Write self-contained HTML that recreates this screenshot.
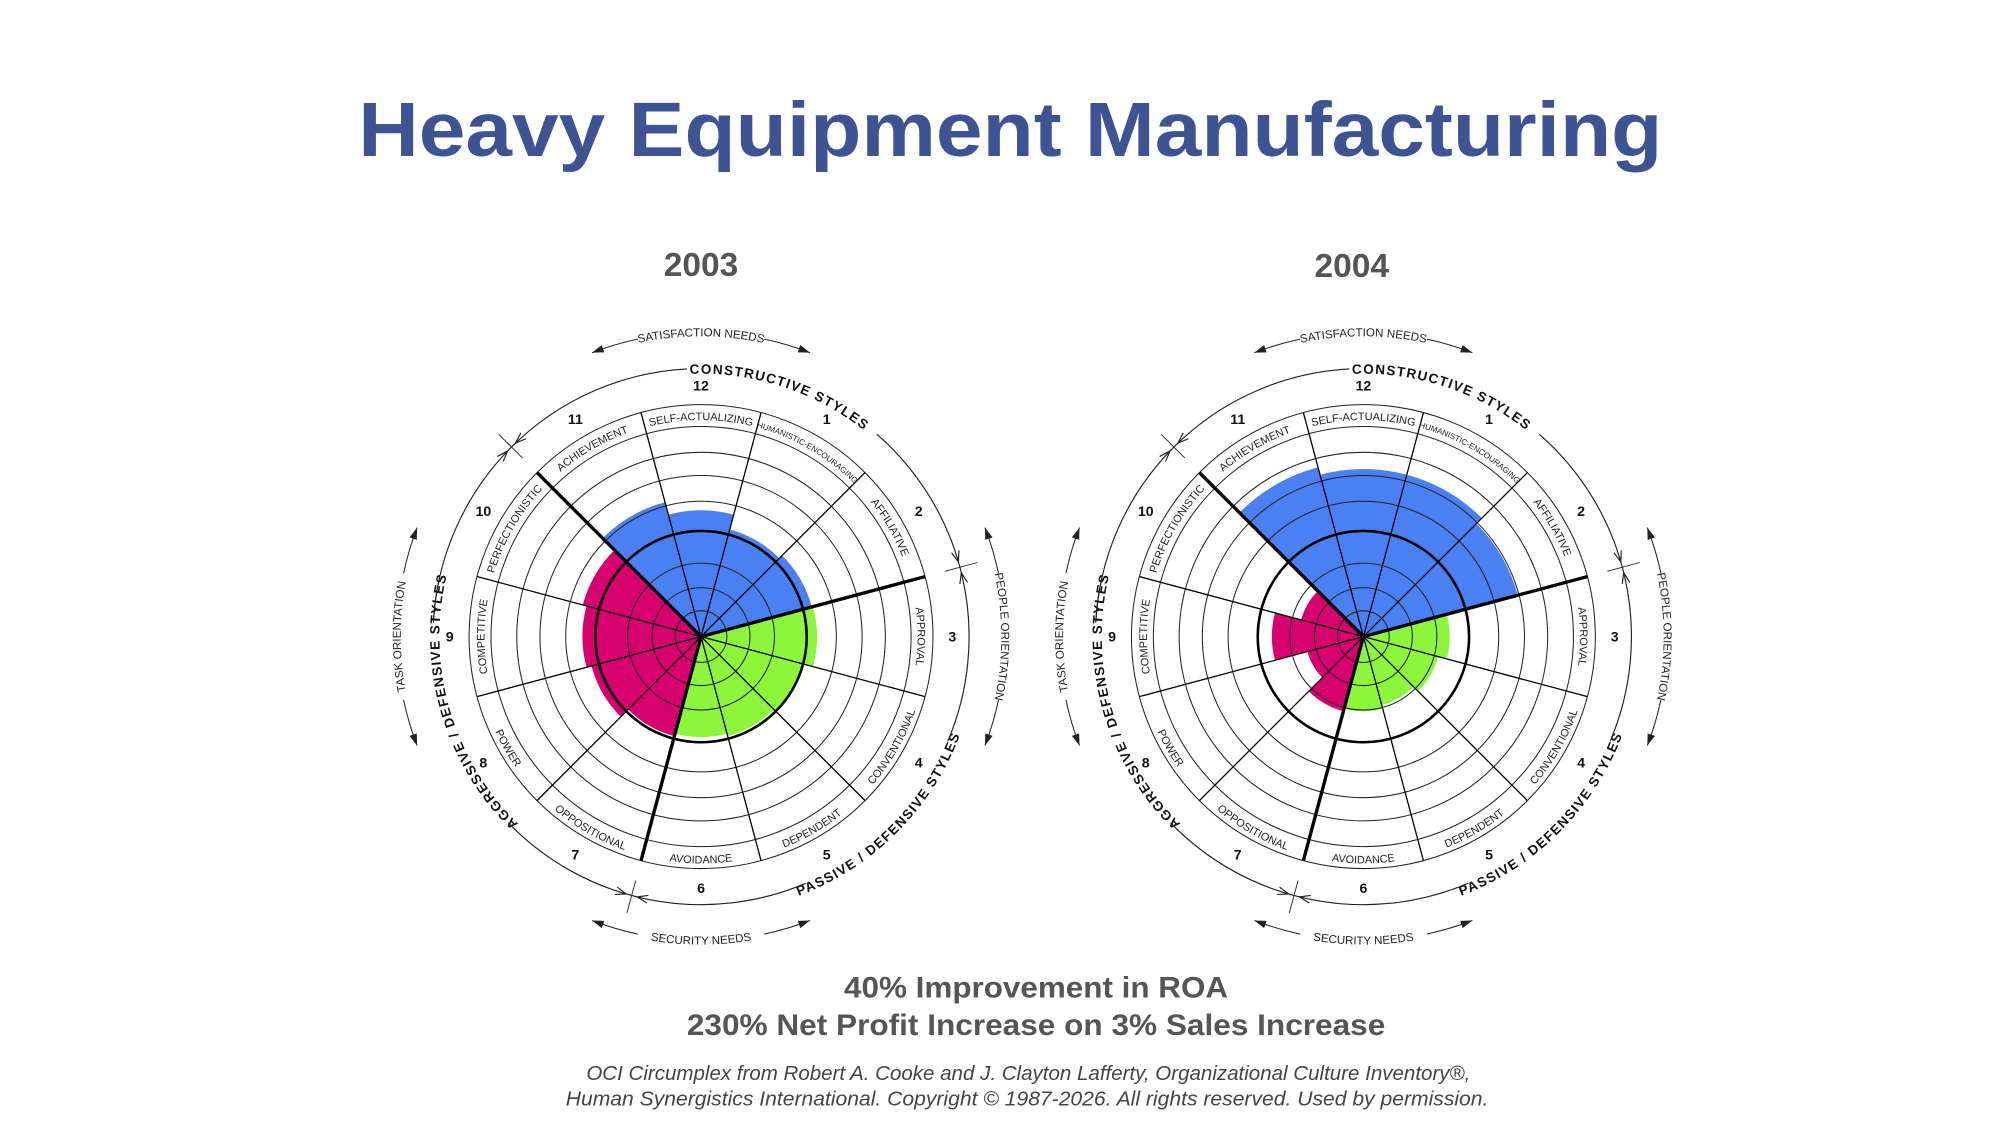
<!DOCTYPE html>
<html><head><meta charset="utf-8"><style>
html,body{margin:0;padding:0;background:#fff;}
svg{display:block;}
text{font-family:"Liberation Sans",Arial,sans-serif;}
</style></head><body>
<svg id="s" xmlns="http://www.w3.org/2000/svg" width="2000" height="1125" viewBox="0 0 1552 873">
<rect width="1552" height="873" fill="#fff"/>
<text x="784" y="121" text-anchor="middle" font-size="60" font-weight="bold" fill="#3d5393" textLength="1012" lengthAdjust="spacingAndGlyphs">Heavy Equipment Manufacturing</text>
<text x="544" y="214" text-anchor="middle" font-size="26" font-weight="bold" fill="#555">2003</text>
<text x="1049" y="215" text-anchor="middle" font-size="26" font-weight="bold" fill="#555">2004</text>
<text x="804" y="774" text-anchor="middle" font-size="23" font-weight="bold" fill="#555" textLength="298" lengthAdjust="spacingAndGlyphs">40% Improvement in ROA</text>
<text x="804" y="803" text-anchor="middle" font-size="23" font-weight="bold" fill="#555" textLength="542" lengthAdjust="spacingAndGlyphs">230% Net Profit Increase on 3% Sales Increase</text>
<text x="798" y="838" text-anchor="middle" font-size="16" font-style="italic" fill="#444" textLength="686" lengthAdjust="spacingAndGlyphs">OCI Circumplex from Robert A. Cooke and J. Clayton Lafferty, Organizational Culture Inventory®,</text>
<text x="797" y="858" text-anchor="middle" font-size="16" font-style="italic" fill="#444" textLength="716" lengthAdjust="spacingAndGlyphs">Human Synergistics International. Copyright © 1987-2026. All rights reserved.  Used by permission.</text>
<g id="c1"></g><g id="c2"></g>
</svg>
<script>
var NS="http://www.w3.org/2000/svg",uid=0;
function P(cx,cy,r,a){a=a*Math.PI/180;return [cx+r*Math.sin(a),cy-r*Math.cos(a)];}
function f(p){return p[0].toFixed(2)+","+p[1].toFixed(2);}
function arc(cx,cy,r,a1,a2){
 var cw=a2>a1?1:0,large=Math.abs(a2-a1)>180?1:0;
 return "M"+f(P(cx,cy,r,a1))+" A"+r+","+r+" 0 "+large+","+cw+" "+f(P(cx,cy,r,a2));}
function chart(g,cx,cy,vals){
 var h="",B="#4a80f2",M="#d6006e",G="#8cf53c";
 var cols=[null,B,B,G,G,G,G,M,M,M,M,B,B];
 for(var k=1;k<=12;k++){var a=30*(k%12),r=vals[k%12];
  h+='<path d="M'+cx+','+cy+' L'+f(P(cx,cy,r,a-15))+' A'+r+','+r+' 0 0,1 '+f(P(cx,cy,r,a+15))+' Z" fill="'+cols[k]+'"/>';}
 [20,38,57,105,125,143,163,180].forEach(function(r){h+='<circle cx="'+cx+'" cy="'+cy+'" r="'+r+'" fill="none" stroke="#222" stroke-width="0.8"/>';});
 h+='<circle cx="'+cx+'" cy="'+cy+'" r="82" fill="none" stroke="#000" stroke-width="2"/>';
 for(var i=0;i<12;i++){var a=15+30*i,bold=(a==75||a==195||a==315);
  var e=P(cx,cy,180,a);h+='<line x1="'+cx+'" y1="'+cy+'" x2="'+e[0].toFixed(2)+'" y2="'+e[1].toFixed(2)+'" stroke="#000" stroke-width="'+(bold?2.6:1)+'"/>';}
 var names=["SELF-ACTUALIZING","HUMANISTIC-ENCOURAGING","AFFILIATIVE","APPROVAL","CONVENTIONAL","DEPENDENT","AVOIDANCE","OPPOSITIONAL","POWER","COMPETITIVE","PERFECTIONISTIC","ACHIEVEMENT"];
 function tp(r,a1,a2,txt,fs,extra){var id="p"+(uid++);
  h+='<path id="'+id+'" d="'+arc(cx,cy,r,a1,a2)+'" fill="none"/>';
  h+='<text font-size="'+fs+'" '+(extra||'')+'><textPath href="#'+id+'" startOffset="50%" text-anchor="middle">'+txt+'</textPath></text>';}
 for(var k=0;k<12;k++){var a=30*k,ccw=(k>=4&&k<=8);var t=names[k];
  var fs=(k==1)?6.3:8.5;
  if(ccw)tp(176,a+20,a-20,t,fs,'fill="#222"');else tp(168,a-20,a+20,t,fs,'fill="#222"');}
 var nums=[12,1,2,3,4,5,6,7,8,9,10,11];
 for(var k=0;k<12;k++){var p=P(cx,cy,195,30*k);h+='<text x="'+p[0].toFixed(1)+'" y="'+(p[1]+4).toFixed(1)+'" text-anchor="middle" font-size="11" font-weight="bold" fill="#111">'+nums[k]+'</text>';}
 tp(204,-12,48,"CONSTRUCTIVE STYLES",10.5,'font-weight="bold" letter-spacing="1" fill="#111"');
 tp(203,216,292,"AGGRESSIVE / DEFENSIVE STYLES",10.5,'font-weight="bold" letter-spacing="1" fill="#111"');
 tp(215,174,96,"PASSIVE / DEFENSIVE STYLES",10.5,'font-weight="bold" letter-spacing="1" fill="#111"');
 var st='fill="none" stroke="#222" stroke-width="0.9"';
 h+='<path d="'+arc(cx,cy,208,-87,-3)+'" '+st+'/>';
 h+='<path d="'+arc(cx,cy,208,41,113)+'" '+st+'/>';
 h+='<path d="'+arc(cx,cy,208,157,226)+'" '+st+'/>';
 h+='<path d="'+arc(cx,cy,208,283,273)+'" '+st+'/>';
 [75,195,315].forEach(function(a){var p1=P(cx,cy,196,a),p2=P(cx,cy,222,a);
  h+='<line x1="'+p1[0].toFixed(1)+'" y1="'+p1[1].toFixed(1)+'" x2="'+p2[0].toFixed(1)+'" y2="'+p2[1].toFixed(1)+'" stroke="#222" stroke-width="0.7"/>';
  [-1,1].forEach(function(d){var t=P(cx,cy,208,a+d*1.2),b1=P(cx,cy,205,a+d*3.5),b2=P(cx,cy,211,a+d*3.5);
   h+='<path d="M'+f(b1)+' L'+f(t)+' L'+f(b2)+'" fill="none" stroke="#222" stroke-width="0.9"/>';});});
 [[-21,21,0],[69,111,90],[159,201,180],[249,291,270]].forEach(function(o){
  var c=o[2];h+='<path d="'+arc(cx,cy,236,o[0],c-12)+'" fill="none" stroke="#222" stroke-width="0.8"/>';
  h+='<path d="'+arc(cx,cy,236,c+12,o[1])+'" fill="none" stroke="#222" stroke-width="0.8"/>';
  [[o[0],1],[o[1],-1]].forEach(function(q){var t=P(cx,cy,236,q[0]),b1=P(cx,cy,233,q[0]+q[1]*2.2),b2=P(cx,cy,239,q[0]+q[1]*2.2);
   h+='<path d="M'+f(b1)+' L'+f(t)+' L'+f(b2)+' Z" fill="#222"/>';});});
 tp(233,-25,25,"SATISFACTION NEEDS",9,'fill="#222"');
 tp(233,65,115,"PEOPLE ORIENTATION",9,'fill="#222"');
 tp(239,205,155,"SECURITY NEEDS",9,'fill="#222"');
 tp(233,245,295,"TASK ORIENTATION",9,'fill="#222"');
 document.getElementById(g).innerHTML=h;}
chart("c1",544,494,[98,86,89,90,82,80,78,80,88,92,95,108]);
chart("c2",1058,494,[130,130,124,67,60,55,58,60,45,71,50,136]);
</script>
</body></html>
